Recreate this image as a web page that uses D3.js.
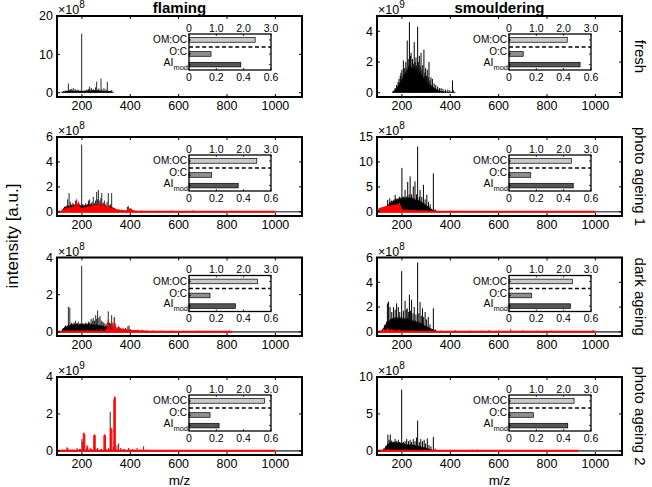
<!DOCTYPE html>
<html><head><meta charset="utf-8">
<script src="https://cdn.jsdelivr.net/npm/d3@7/dist/d3.min.js"></script>
<style>body{margin:0;background:#fff}svg{display:block}text{font-family:"Liberation Sans",Arial,Helvetica,sans-serif;fill:#000}</style>
</head><body><svg id="c" width="652" height="487"></svg>
<script>
// ---------------- data ----------------
const columns = ["flaming", "smouldering"];
const rowLabels = ["fresh", "photo ageing 1", "dark ageing", "photo ageing 2"];
const xTickValues = [200, 400, 600, 800, 1000];
const yMax = [[20, 5], [6, 15], [4, 6], [4, 10]];
const yTickValues = [[[0,10,20],[0,2,4]], [[0,2,4,6],[0,5,10,15]], [[0,2,4],[0,2,4,6]], [[0,2,4],[0,5,10]]];
const yExponent = [[8, 9], [8, 8], [8, 8], [9, 8]];
const insetCategories = ["OM:OC", "O:C", "AI"];
const insetTopTicks = [0, 1, 2, 3];
const insetTopLabels = ["0", "1.0", "2.0", "3.0"];
const insetBottomTicks = [0, 0.2, 0.4, 0.6];
const insetBottomLabels = ["0", "0.2", "0.4", "0.6"];
const omOc = [[2.42, 2.13], [2.48, 2.28], [2.5, 2.32], [2.76, 2.38]];
const oToC = [[0.161, 0.104], [0.166, 0.159], [0.154, 0.164], [0.154, 0.178]];
const aiMod = [[0.379, 0.52], [0.36, 0.47], [0.34, 0.45], [0.22, 0.43]];
const redBaselineEnd = [[0, 0], [1000, 1000], [820, 1000], [1000, 930]];
const blackBaselineEnd = [[0, 0], [1110, 1110], [1110, 1110], [1110, 1110]];

// flaming fresh (x1e8)
const flFreshK = [[118,0.3],[124,0.4],[130,0.5],[135,0.6],[140,0.5],[144,2.4],[148,0.7],[152,0.9],[156,1.0],[160,0.6],[164,1.2],[168,0.5],[172,1.0],[176,0.7],[180,0.6],[184,0.8],[188,0.4],[192,0.6],[196,0.5],[199,15.4],[204,0.5],[208,0.4],[212,0.6],[216,0.5],[220,0.8],[224,0.6],[228,1.0],[232,1.6],[236,0.8],[240,1.2],[244,0.6],[248,0.9],[252,0.7],[256,1.4],[261,2.9],[265,0.8],[270,1.1],[274,0.7],[279,3.7],[283,0.9],[287,0.5],[291,1.2],[296,0.6],[300,0.9],[305,2.8],[310,0.5],[314,0.4],[318,0.5],[323,0.7],[328,0.3]];
const flFreshKBase = [[115,0.1],[125,0.3],[135,0.4],[145,0.5],[155,0.45],[165,0.5],[175,0.4],[185,0.5],[195,0.4],[205,0.45],[215,0.5],[225,0.55],[235,0.5],[245,0.6],[255,0.5],[265,0.55],[275,0.5],[285,0.45],[295,0.4],[305,0.35],[315,0.3],[325,0.2],[332,0.05]];
// smouldering fresh (x1e9)
const smFreshK = [[165,0.1],[172,0.3],[178,0.5],[184,0.7],[188,0.9],[193,1.1],[196,1.3],[200,1.5],[206,2.1],[210,1.6],[216,2.0],[222,3.4],[226,2.2],[231,4.6],[235,2.4],[238,2.6],[244,2.2],[247,1.9],[251,3.3],[255,2.0],[258,2.3],[262,1.8],[265,4.3],[268,2.0],[272,2.4],[276,1.7],[279,2.6],[283,1.5],[286,1.8],[291,2.8],[295,1.3],[298,1.6],[302,1.1],[305,1.5],[309,1.0],[312,2.0],[316,0.8],[320,1.0],[326,0.9],[333,0.6],[340,0.5],[348,0.4],[355,0.3],[362,0.3],[370,0.25],[380,0.2],[390,0.2],[398,0.15],[409,0.8],[414,0.15]];
const smFreshKBase = [[160,0.05],[164,0.15],[168,0.1],[172,0.3],[176,0.2],[180,0.45],[184,0.35],[188,0.7],[192,0.55],[196,0.95],[200,0.8],[204,1.2],[208,1.0],[212,1.45],[216,1.2],[220,1.7],[224,1.4],[228,1.85],[232,1.6],[236,1.9],[240,1.6],[244,1.85],[248,1.55],[252,1.8],[256,1.5],[260,1.75],[264,1.4],[268,1.6],[272,1.3],[276,1.45],[280,1.1],[284,1.3],[288,0.95],[292,1.1],[296,0.8],[300,0.9],[304,0.65],[308,0.75],[312,0.5],[316,0.6],[320,0.42],[324,0.48],[328,0.33],[332,0.38],[336,0.26],[340,0.3],[344,0.2],[348,0.22],[352,0.15],[356,0.17],[360,0.1],[364,0.12],[370,0.08],[376,0.1],[382,0.06],[388,0.08],[394,0.05],[400,0.06],[406,0.04],[412,0.05],[418,0.03],[424,0.01]];
// flaming photo ageing 1 (x1e8)
const flPhoto1K = [[135,0.5],[141,1.0],[147,1.5],[152,0.8],[156,0.6],[162,0.7],[168,0.6],[174,0.9],[180,0.7],[186,0.8],[192,0.6],[199,5.4],[205,0.6],[210,0.5],[216,0.7],[222,0.6],[227,0.9],[232,1.0],[238,0.7],[242,0.8],[247,1.2],[252,0.7],[256,0.9],[261,1.6],[265,1.0],[268,1.75],[274,0.9],[278,1.1],[282,1.5],[287,0.7],[293,0.9],[298,0.6],[304,0.8],[309,1.5],[314,0.5],[318,0.6],[323,1.5],[328,0.4],[334,0.3],[340,0.25],[388,0.4],[392,0.45]];
const flPhoto1KBase = [[118,0.1],[124,0.3],[130,0.45],[136,0.35],[142,0.55],[148,0.4],[154,0.55],[160,0.45],[166,0.6],[172,0.45],[178,0.65],[184,0.45],[190,0.6],[196,0.45],[202,0.6],[208,0.45],[214,0.6],[220,0.5],[226,0.65],[232,0.5],[238,0.65],[244,0.5],[250,0.65],[256,0.5],[262,0.65],[268,0.5],[274,0.6],[280,0.45],[286,0.6],[292,0.45],[298,0.5],[304,0.4],[310,0.5],[316,0.35],[322,0.4],[328,0.25],[334,0.28],[340,0.15],[350,0.08],[360,0.05]];
const flPhoto1R = [[178,1.0],[186,0.8],[290,0.75],[310,0.6],[400,0.3],[430,0.08],[445,0.1],[460,0.07],[480,0.09],[500,0.06],[520,0.08],[545,0.07],[570,0.1],[600,0.06],[630,0.08],[660,0.12],[700,0.06],[740,0.07],[780,0.06],[820,0.1],[860,0.05],[900,0.06],[950,0.05],[990,0.08]];
const flPhoto1RBase = [[112,0.05],[118,0.15],[122,0.25],[126,0.2],[130,0.35],[134,0.22],[138,0.4],[142,0.28],[146,0.45],[150,0.3],[154,0.45],[158,0.35],[162,0.5],[166,0.38],[170,0.55],[174,0.45],[178,0.8],[182,0.6],[186,0.7],[190,0.45],[194,0.4],[198,0.28],[202,0.35],[206,0.28],[210,0.42],[214,0.3],[218,0.48],[222,0.35],[226,0.52],[230,0.38],[234,0.55],[238,0.42],[242,0.58],[246,0.45],[250,0.62],[254,0.5],[258,0.68],[262,0.52],[266,0.7],[270,0.5],[274,0.62],[278,0.48],[282,0.58],[286,0.45],[290,0.65],[294,0.42],[298,0.5],[302,0.4],[306,0.5],[310,0.38],[314,0.42],[318,0.3],[322,0.35],[326,0.26],[330,0.32],[334,0.22],[338,0.26],[342,0.18],[346,0.22],[350,0.16],[355,0.2],[360,0.13],[365,0.18],[370,0.12],[375,0.15],[380,0.11],[385,0.15],[390,0.2],[395,0.26],[400,0.22],[404,0.26],[408,0.16],[412,0.15],[416,0.1],[422,0.08],[430,0.05]];
// smouldering photo ageing 1 (x1e8)
const smPhoto1K = [[141,2.4],[150,2.7],[158,2.2],[165,2.0],[172,3.4],[178,2.5],[185,2.0],[190,3.0],[200,8.8],[206,3.0],[213,4.4],[220,3.0],[224,6.0],[230,3.5],[234,7.1],[240,3.5],[247,5.1],[254,6.1],[260,3.5],[265,13.1],[272,3.0],[275,4.4],[282,3.0],[289,5.4],[296,2.5],[303,3.4],[310,2.0],[317,1.5],[330,7.7],[338,0.5]];
const smPhoto1KBase = [[120,0.1],[124,0.5],[128,0.4],[132,1.1],[136,0.9],[140,1.6],[144,1.3],[148,2.0],[152,1.7],[156,2.3],[160,1.9],[164,2.5],[168,2.1],[172,2.7],[176,2.3],[180,2.8],[184,2.4],[188,2.9],[192,2.5],[196,3.0],[200,2.6],[204,3.1],[208,2.6],[212,3.1],[216,2.6],[220,3.1],[224,2.6],[228,3.0],[232,2.6],[236,3.0],[240,2.5],[244,2.9],[248,2.4],[252,2.8],[256,2.3],[260,2.7],[264,2.2],[268,2.5],[272,2.0],[276,2.3],[280,1.8],[284,2.0],[288,1.6],[292,1.8],[296,1.3],[300,1.5],[304,1.1],[308,1.2],[312,0.8],[316,0.9],[320,0.55],[324,0.6],[328,0.35],[332,0.4],[336,0.2],[342,0.15],[350,0.1],[360,0.03]];
const smPhoto1R = [[190,1.8],[420,0.12],[440,0.15],[465,0.1],[490,0.12],[515,0.15],[540,0.1],[560,0.12],[590,0.2],[615,0.1],[640,0.15],[670,0.1],[700,0.12],[730,0.15],[760,0.1],[800,0.12],[840,0.1],[880,0.12],[920,0.1],[960,0.12],[995,0.15]];
const smPhoto1RBase = [[100,0.2],[102,0.5],[106,0.8],[110,0.7],[114,1.0],[118,0.8],[122,1.1],[126,0.9],[130,1.2],[134,1.0],[138,1.3],[142,1.1],[146,1.4],[150,1.2],[154,1.3],[158,1.2],[162,1.4],[166,1.3],[170,1.5],[174,1.4],[178,1.6],[182,1.4],[186,1.7],[190,1.6],[194,1.4],[198,0.8],[202,0.5],[206,0.42],[210,0.5],[216,0.4],[222,0.45],[228,0.38],[234,0.42],[240,0.35],[248,0.38],[256,0.3],[264,0.33],[272,0.28],[280,0.3],[290,0.24],[300,0.28],[310,0.22],[320,0.2],[330,0.24],[340,0.18],[350,0.2],[362,0.15],[375,0.18],[390,0.14],[405,0.2],[415,0.1]];
// flaming dark ageing (x1e8)
const flDarkK = [[144,1.35],[150,1.3],[156,0.5],[162,0.45],[168,0.5],[174,0.6],[180,0.45],[185,0.55],[190,0.4],[195,0.45],[199,3.55],[205,0.4],[210,0.45],[216,0.5],[222,0.45],[227,0.55],[232,0.5],[238,0.7],[243,0.6],[247,0.75],[252,0.6],[257,0.9],[261,0.7],[265,1.15],[270,0.75],[275,0.85],[280,0.6],[284,0.55],[290,0.5],[295,0.45],[300,0.4],[305,0.5],[309,1.1],[314,0.5],[318,0.45],[323,0.9],[328,0.5],[334,0.8],[340,0.3],[346,0.25],[352,0.3],[360,0.2],[370,0.15],[380,0.2],[390,0.3],[395,0.35],[400,0.15],[410,0.1],[420,0.1]];
const flDarkKBase = [[115,0.05],[120,0.18],[126,0.22],[132,0.35],[138,0.28],[144,0.42],[150,0.32],[156,0.45],[162,0.35],[168,0.45],[174,0.38],[180,0.48],[186,0.36],[192,0.46],[198,0.38],[204,0.48],[210,0.36],[216,0.46],[222,0.38],[228,0.48],[234,0.38],[240,0.46],[246,0.36],[252,0.44],[258,0.34],[264,0.44],[270,0.32],[276,0.4],[282,0.3],[288,0.36],[294,0.26],[300,0.32],[306,0.26],[312,0.28],[318,0.2],[324,0.22],[330,0.15],[340,0.1],[360,0.08],[380,0.06],[400,0.05],[420,0.04],[430,0.01]];
const flDarkR = [[140,0.08],[160,0.1],[180,0.12],[200,0.1],[220,0.12],[240,0.1],[260,0.12],[280,0.15],[305,0.45],[309,0.67],[313,0.4],[326,0.3],[330,0.4],[334,0.72],[338,0.45],[355,0.25],[370,0.22],[380,0.2],[430,0.12],[450,0.1],[470,0.1],[495,0.08],[530,0.08],[570,0.07],[620,0.06],[680,0.07],[710,0.06],[780,0.06],[810,0.08]];
const flDarkRBase = [[290,0.02],[298,0.12],[304,0.18],[310,0.22],[318,0.16],[326,0.22],[334,0.25],[342,0.16],[350,0.2],[358,0.14],[366,0.18],[374,0.13],[382,0.16],[390,0.11],[398,0.13],[408,0.09],[420,0.1],[435,0.07],[450,0.08],[470,0.05],[490,0.05],[510,0.03],[520,0.01]];
// smouldering dark ageing (x1e8)
const smDarkK = [[140,2.3],[145,2.45],[151,2.0],[158,1.6],[165,2.0],[172,1.8],[178,2.3],[185,2.0],[191,1.6],[199,4.9],[206,1.7],[213,2.5],[218,1.8],[222,1.9],[228,1.6],[231,3.0],[236,1.7],[240,2.6],[246,1.5],[251,2.0],[258,1.4],[265,5.6],[270,1.5],[275,2.4],[280,1.3],[285,1.9],[290,1.2],[296,1.6],[302,1.0],[309,1.2],[316,0.6],[330,1.9],[338,0.2]];
const smDarkKBase = [[116,0.05],[120,0.25],[124,0.3],[128,0.6],[132,0.55],[136,0.85],[140,0.75],[144,1.0],[148,0.85],[152,1.1],[156,0.95],[160,1.15],[164,1.0],[168,1.2],[172,1.05],[176,1.25],[180,1.05],[184,1.25],[188,1.05],[192,1.25],[196,1.05],[200,1.25],[204,1.0],[208,1.2],[212,1.0],[216,1.15],[220,0.95],[224,1.15],[228,0.95],[232,1.1],[236,0.9],[240,1.05],[244,0.85],[248,1.0],[252,0.8],[256,0.95],[260,0.78],[264,0.9],[268,0.72],[272,0.85],[276,0.65],[280,0.75],[284,0.58],[288,0.65],[292,0.5],[296,0.55],[300,0.42],[304,0.48],[308,0.35],[312,0.38],[316,0.28],[320,0.3],[324,0.2],[328,0.22],[332,0.14],[338,0.1],[345,0.06],[355,0.02]];
const smDarkR = [[115,0.15],[125,0.25],[132,0.2],[140,0.3],[148,0.2],[155,0.25],[165,0.2],[175,0.15],[190,0.2],[210,0.1],[240,0.12],[280,0.1],[320,0.08],[360,0.1],[420,0.15],[480,0.1],[530,0.12],[560,0.15],[600,0.1],[650,0.2],[700,0.12],[760,0.1],[820,0.1],[900,0.08],[990,0.15]];
const smDarkRBase = [[105,0.05],[115,0.12],[130,0.15],[145,0.15],[160,0.12],[180,0.1],[200,0.08],[220,0.06],[250,0.05],[300,0.04]];
// flaming photo ageing 2 (x1e9)
const flPhoto2K = [[130,0.05],[150,0.08],[170,0.06],[190,0.1],[200,0.65],[205,0.3],[220,0.15],[240,0.1],[260,0.08],[280,0.1],[300,0.1],[317,2.1],[330,0.2],[352,0.4],[370,0.1],[400,0.06]];
const flPhoto2R = [[112,0.05],[125,0.08],[138,0.2],[142,0.15],[160,0.08],[180,0.15],[195,0.1],[203,0.5],[206,0.95],[209,1.0],[212,0.9],[221,0.3],[224,0.25],[234,0.15],[249,0.85],[252,0.9],[255,0.85],[265,0.15],[280,0.08],[291,0.85],[294,0.9],[297,0.85],[310,0.15],[318,1.2],[321,1.25],[324,1.2],[332,2.8],[335,2.95],[338,2.9],[345,0.3],[360,0.15],[375,0.1],[393,0.15],[410,0.1],[428,0.15],[440,0.08],[455,0.25],[470,0.08],[490,0.06],[520,0.05],[560,0.06],[600,0.05],[650,0.04],[700,0.05],[760,0.04],[820,0.05],[900,0.04],[980,0.04]];
// smouldering photo ageing 2 (x1e8)
const smPhoto2K = [[142,2.2],[147,1.5],[152,2.2],[158,1.4],[165,1.2],[172,1.6],[178,1.3],[185,1.5],[190,1.2],[199,8.3],[206,1.2],[213,1.3],[220,1.6],[227,1.3],[234,1.5],[240,1.2],[247,1.6],[254,1.3],[260,1.8],[265,4.1],[272,1.2],[278,1.6],[285,1.3],[292,1.5],[298,1.0],[305,1.7],[312,0.8],[320,0.6],[330,1.9],[338,0.3]];
const smPhoto2KBase = [[120,0.05],[124,0.35],[128,0.3],[132,0.7],[136,0.65],[140,1.0],[144,0.9],[148,1.2],[152,1.05],[156,1.3],[160,1.1],[164,1.3],[168,1.1],[172,1.3],[176,1.1],[180,1.25],[184,1.05],[188,1.2],[192,1.0],[196,1.15],[200,0.95],[204,1.1],[208,0.9],[212,1.05],[216,0.85],[220,1.0],[224,0.82],[228,0.95],[232,0.78],[236,0.92],[240,0.75],[244,0.88],[248,0.72],[252,0.85],[256,0.68],[260,0.8],[264,0.64],[268,0.75],[272,0.6],[276,0.7],[280,0.52],[284,0.6],[288,0.45],[292,0.52],[296,0.38],[300,0.45],[304,0.32],[308,0.36],[312,0.25],[316,0.28],[320,0.18],[324,0.2],[328,0.12],[334,0.08],[342,0.03]];
const smPhoto2R = [[110,0.15],[125,0.2],[140,0.25],[150,0.2],[165,0.15],[180,0.2],[200,0.15],[230,0.1],[270,0.12],[320,0.1],[380,0.12],[440,0.1],[490,0.2],[510,0.15],[560,0.1],[600,0.12],[650,0.15],[700,0.1],[760,0.12],[820,0.08],[900,0.1]];
const smPhoto2RBase = [[105,0.05],[115,0.12],[130,0.15],[150,0.15],[170,0.12],[190,0.1],[220,0.08],[260,0.05],[300,0.04]];

// tables built from the arrays above
const blackSticks = [[flFreshK, smFreshK], [flPhoto1K, smPhoto1K], [flDarkK, smDarkK], [flPhoto2K, smPhoto2K]];
const blackBases = [[flFreshKBase, smFreshKBase], [flPhoto1KBase, smPhoto1KBase], [flDarkKBase, smDarkKBase], [[], smPhoto2KBase]];
const redSticks = [[[], []], [flPhoto1R, smPhoto1R], [flDarkR, smDarkR], [flPhoto2R, smPhoto2R]];
const redBases = [[[], []], [flPhoto1RBase, smPhoto1RBase], [flDarkRBase, smDarkRBase], [[], smPhoto2RBase]];

// ---------------- layout ----------------
const svg = d3.select("#c");
const colLeft = [57, 377];
const plotW = 245;
const rowTop = [16, 137, 257.5, 377];
const rowBottom = [97, 216, 336, 455];
const mzDomain = [97, 1110];

const defs = svg.append("defs");

function drawPanel(r, c) {
  const x0 = colLeft[c], x1 = x0 + plotW, y0 = rowTop[r], y1 = rowBottom[r];
  const ym = yMax[r][c];
  const x = d3.scaleLinear().domain(mzDomain).range([x0, x1]);
  const y = d3.scaleLinear().domain([-0.056 * ym, ym]).range([y1, y0]);
  const id = "clip" + r + c;
  defs.append("clipPath").attr("id", id).append("rect")
    .attr("x", x0).attr("y", y0).attr("width", plotW).attr("height", y1 - y0);
  const g = svg.append("g").attr("clip-path", `url(#${id})`);

  const area = d3.area().x(d => x(d[0])).y0(y(0)).y1(d => y(d[1]));

  // black series
  if (blackBaselineEnd[r][c] > 0) {
    g.append("line").attr("x1", x(mzDomain[0])).attr("x2", x(blackBaselineEnd[r][c]))
      .attr("y1", y(0)).attr("y2", y(0)).attr("stroke", "#5a5a5a").attr("stroke-width", 1.6);
  }
  if (blackBases[r][c].length) {
    g.append("path").datum(blackBases[r][c]).attr("d", area).attr("fill", "#000");
  }
  g.selectAll(null).data(blackSticks[r][c]).enter().append("line")
    .attr("x1", d => x(d[0])).attr("x2", d => x(d[0]))
    .attr("y1", y(0)).attr("y2", d => y(d[1]))
    .attr("stroke", "#000").attr("stroke-width", c === 1 ? 1.0 : 0.85);

  // red series
  if (redBaselineEnd[r][c] > 0) {
    g.append("line").attr("x1", x(100)).attr("x2", x(redBaselineEnd[r][c]))
      .attr("y1", y(0)).attr("y2", y(0)).attr("stroke", "#ff0000").attr("stroke-width", 2);
  }
  if (redBases[r][c].length) {
    g.append("path").datum(redBases[r][c]).attr("d", area).attr("fill", "#ff0000");
  }
  g.selectAll(null).data(redSticks[r][c]).enter().append("line")
    .attr("x1", d => x(d[0])).attr("x2", d => x(d[0]))
    .attr("y1", y(0)).attr("y2", d => y(d[1]))
    .attr("stroke", "#ff0000").attr("stroke-width", 1.1);

  // ticks (inward, mirrored)
  const tk = svg.append("g").attr("stroke", "#000").attr("stroke-width", 1);
  xTickValues.forEach(v => {
    tk.append("line").attr("x1", x(v)).attr("x2", x(v)).attr("y1", y1).attr("y2", y1 - 3);
    tk.append("line").attr("x1", x(v)).attr("x2", x(v)).attr("y1", y0).attr("y2", y0 + 3);
  });
  yTickValues[r][c].forEach(v => {
    tk.append("line").attr("x1", x0).attr("x2", x0 + 3).attr("y1", y(v)).attr("y2", y(v));
    tk.append("line").attr("x1", x1).attr("x2", x1 - 3).attr("y1", y(v)).attr("y2", y(v));
  });
  // box
  svg.append("rect").attr("x", x0).attr("y", y0).attr("width", plotW).attr("height", y1 - y0)
    .attr("fill", "none").attr("stroke", "#000").attr("stroke-width", 2);

  // tick labels
  xTickValues.forEach(v => {
    svg.append("text").attr("x", x(v)).attr("y", y1 + 12.8).attr("text-anchor", "middle")
      .attr("font-size", 12.5).text(v);
  });
  yTickValues[r][c].forEach(v => {
    svg.append("text").attr("x", x0 - 4).attr("y", y(v) + 4.4).attr("text-anchor", "end")
      .attr("font-size", 12.5).text(v);
  });
  // exponent
  const ex = svg.append("text").attr("x", x0 + 1).attr("y", y0 - 2).attr("font-size", 12.5);
  ex.append("tspan").text("\u00d710");
  ex.append("tspan").attr("dy", -6).attr("font-size", 10).text(yExponent[r][c]);

  // inset
  const ix = x0 + 132, iw = 82, iy = y0 + 18, ih = 36;
  const sTop = d3.scaleLinear().domain([0, 3]).range([ix, ix + iw]);
  const sBot = d3.scaleLinear().domain([0, 0.6]).range([ix, ix + iw]);
  const rowPos = [iy + ih * 0.165, iy + ih * 0.555, iy + ih * 0.85];
  const dashY = iy + ih * 0.36;
  svg.append("rect").attr("x", ix).attr("y", iy).attr("width", iw).attr("height", ih).attr("fill", "#fff");
  const bh = 4.6;
  const barVals = [sTop(omOc[r][c]), sBot(oToC[r][c]), sBot(aiMod[r][c])];
  const barCols = ["#c9c9c9", "#8f8f8f", "#555555"];
  barVals.forEach((bx, i) => {
    svg.append("rect").attr("x", ix).attr("y", rowPos[i] - bh / 2).attr("width", bx - ix).attr("height", bh)
      .attr("fill", barCols[i]).attr("stroke", "#000").attr("stroke-width", 0.7);
  });
  svg.append("line").attr("x1", ix).attr("x2", ix + iw).attr("y1", dashY).attr("y2", dashY)
    .attr("stroke", "#000").attr("stroke-width", 1.4).attr("stroke-dasharray", "4,2.6");
  const itk = svg.append("g").attr("stroke", "#000").attr("stroke-width", 0.8);
  insetTopTicks.forEach(v => itk.append("line").attr("x1", sTop(v)).attr("x2", sTop(v)).attr("y1", iy).attr("y2", iy + 2));
  insetBottomTicks.forEach(v => itk.append("line").attr("x1", sBot(v)).attr("x2", sBot(v)).attr("y1", iy + ih).attr("y2", iy + ih - 2));
  rowPos.forEach(p => {
    itk.append("line").attr("x1", ix).attr("x2", ix + 2).attr("y1", p).attr("y2", p);
    itk.append("line").attr("x1", ix + iw).attr("x2", ix + iw - 2).attr("y1", p).attr("y2", p);
  });
  svg.append("rect").attr("x", ix).attr("y", iy).attr("width", iw).attr("height", ih)
    .attr("fill", "none").attr("stroke", "#000").attr("stroke-width", 1.3);
  insetTopTicks.forEach((v, i) => svg.append("text").attr("x", sTop(v)).attr("y", iy - 2.5)
    .attr("text-anchor", "middle").attr("font-size", 10.5).text(insetTopLabels[i]));
  insetBottomTicks.forEach((v, i) => svg.append("text").attr("x", sBot(v)).attr("y", iy + ih + 10.5)
    .attr("text-anchor", "middle").attr("font-size", 10.5).text(insetBottomLabels[i]));
  svg.append("text").attr("x", ix - 2).attr("y", rowPos[0] + 3.5).attr("text-anchor", "end")
    .attr("font-size", 10).text(insetCategories[0]);
  svg.append("text").attr("x", ix - 2).attr("y", rowPos[1] + 1.5).attr("text-anchor", "end")
    .attr("font-size", 10).text(insetCategories[1]);
  const ai = svg.append("text").attr("x", ix - 1).attr("y", rowPos[2] + 1).attr("text-anchor", "end").attr("font-size", 10.5);
  ai.append("tspan").text(insetCategories[2]);
  ai.append("tspan").attr("dy", 4).attr("font-size", 7.5).text("mod");
}

for (let r = 0; r < 4; r++) for (let c = 0; c < 2; c++) drawPanel(r, c);

// titles
columns.forEach((t, c) => svg.append("text").attr("x", colLeft[c] + plotW / 2).attr("y", 13)
  .attr("text-anchor", "middle").attr("font-size", 15).attr("font-weight", "bold").text(t));
// row labels
rowLabels.forEach((t, r) => {
  const cy = (rowTop[r] + rowBottom[r]) / 2;
  svg.append("text").attr("transform", `translate(635,${cy}) rotate(90)`)
    .attr("text-anchor", "middle").attr("font-size", 15).text(t);
});
// axis titles
svg.append("text").attr("transform", "translate(17.5,236) rotate(-90)").attr("text-anchor", "middle")
  .attr("font-size", 17).text("intensity [a.u.]");
columns.forEach((t, c) => svg.append("text").attr("x", colLeft[c] + plotW / 2).attr("y", 485)
  .attr("text-anchor", "middle").attr("font-size", 13.5).text("m/z"));
</script></body></html>
